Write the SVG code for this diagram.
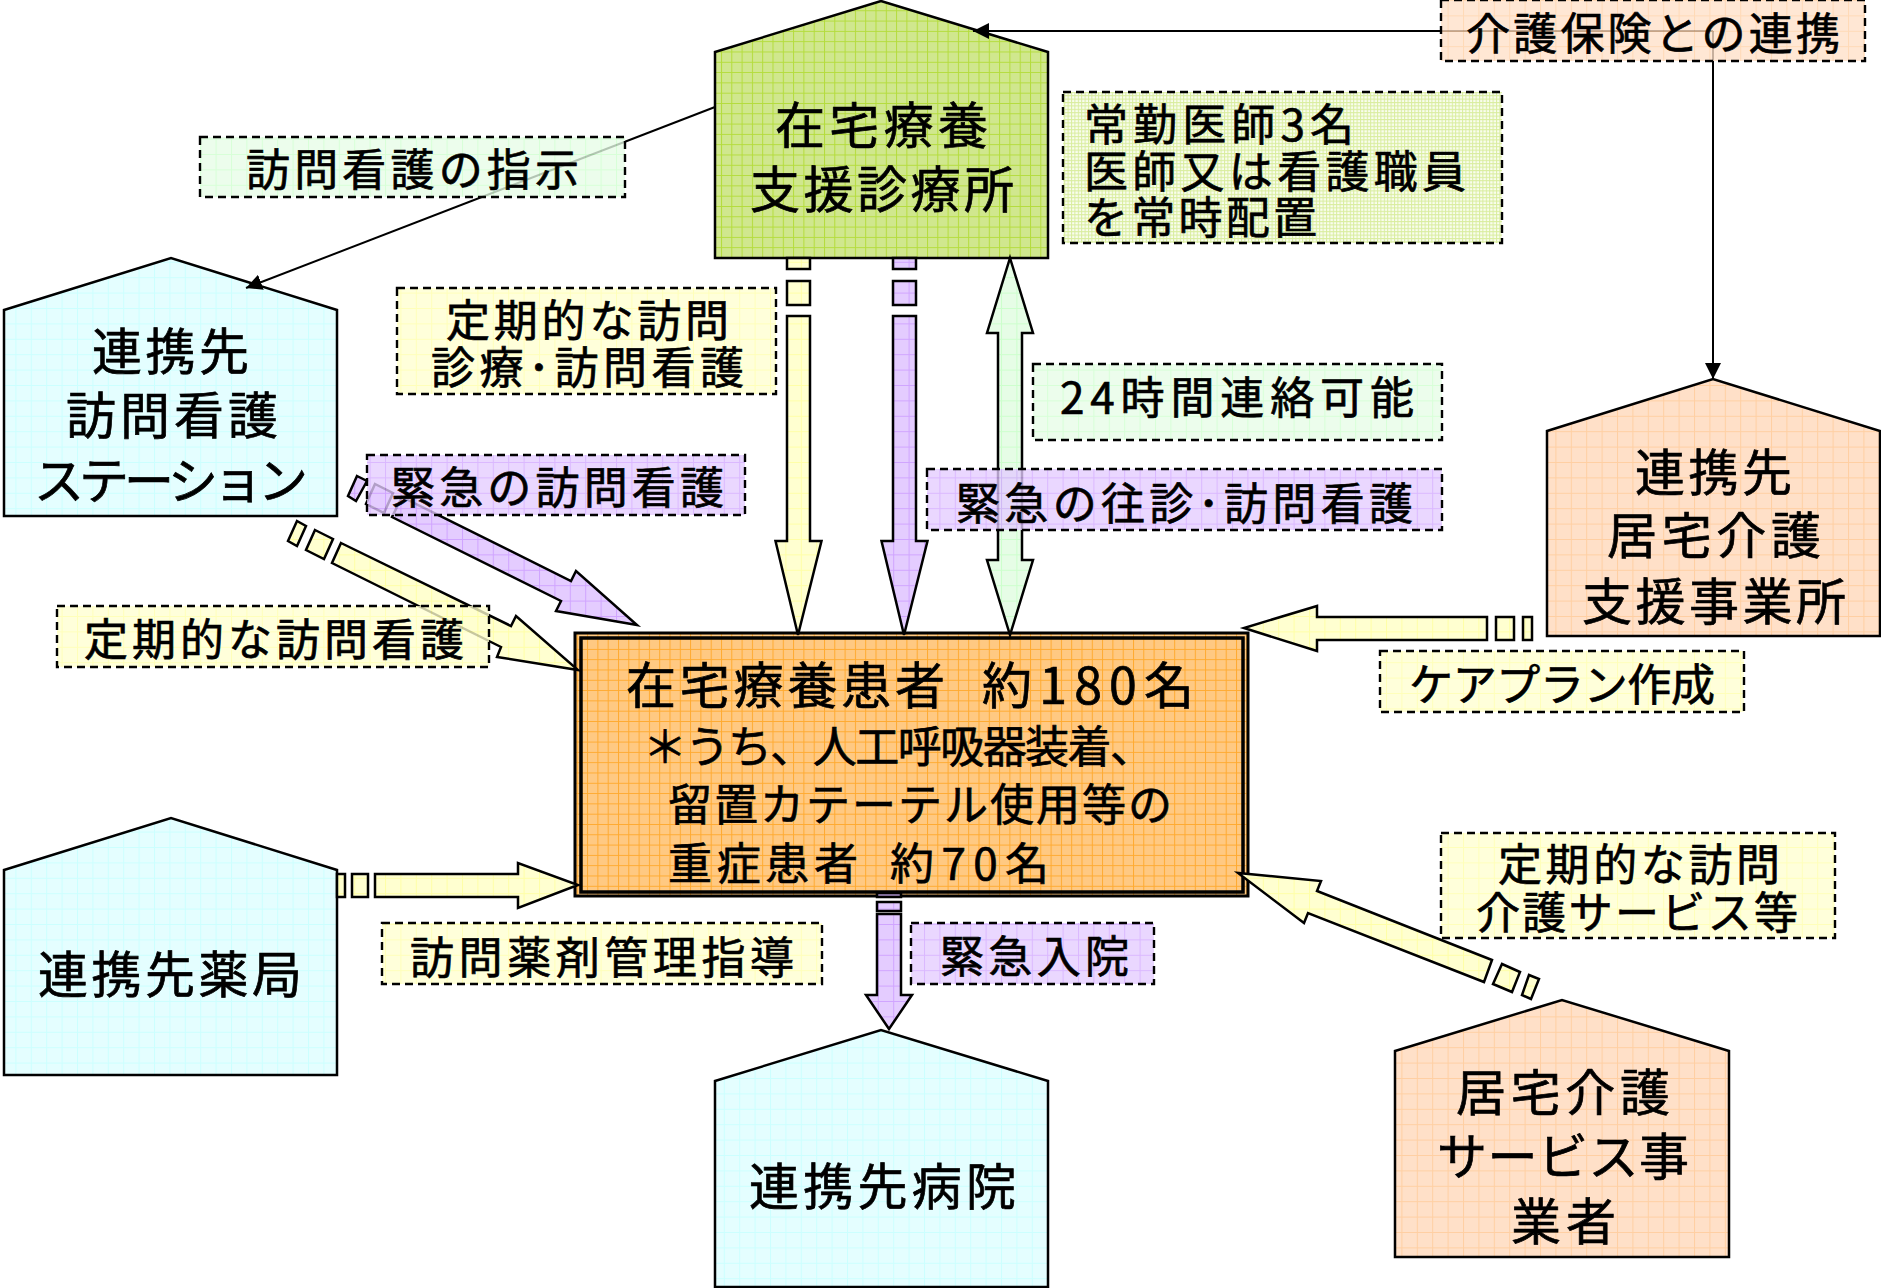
<svg xmlns="http://www.w3.org/2000/svg" width="1881" height="1288" viewBox="0 0 1881 1288">
<style>
text{font-family:"Noto Sans CJK JP","Noto Sans",sans-serif;fill:#000;font-size:44px;stroke:#000;stroke-width:.7px}
.b{font-size:50px}
.h{stroke:#000;stroke-width:2.5;stroke-linejoin:miter}
.a{stroke:#000;stroke-width:2.5;stroke-linejoin:miter}
.f{stroke:none;opacity:.78}
.d{fill:none;stroke:#000;stroke-width:2.4;stroke-dasharray:8 5}
.l{fill:none;stroke:#000;stroke-width:2}
</style>
<defs>
<marker id="tip" markerUnits="userSpaceOnUse" markerWidth="18" markerHeight="16" refX="16" refY="8" orient="auto"><path d="M0 0L16 8L0 16Z" fill="#000"/></marker>
<pattern id="pg" width="10.3" height="10.3" patternUnits="userSpaceOnUse"><rect width="10.3" height="10.3" fill="#d0e78e"/><path d="M0 .5H10.3M.5 0V10.3" stroke="#b4dc3c" stroke-width="1"/></pattern>
<pattern id="pm" width="3.4" height="3.4" patternUnits="userSpaceOnUse"><rect width="3.4" height="3.4" fill="#f9fdee"/><path d="M0 .5H3.4M.5 0V3.4" stroke="#d9ed9e" stroke-width="1"/></pattern>
<pattern id="pb" width="15.4" height="15.4" patternUnits="userSpaceOnUse"><rect width="15.4" height="15.4" fill="#e4feff"/><path d="M0 .5H15.4M.5 0V15.4" stroke="#ccffff" stroke-width="1"/></pattern>
<pattern id="pp" width="15.4" height="15.4" patternUnits="userSpaceOnUse"><rect width="15.4" height="15.4" fill="#ffe0c8"/><path d="M0 .5H15.4M.5 0V15.4" stroke="#ffcfa2" stroke-width="1"/></pattern>
<pattern id="py" width="15.4" height="15.4" patternUnits="userSpaceOnUse"><rect width="15.4" height="15.4" fill="#ffffd0"/><path d="M0 .5H15.4M.5 0V15.4" stroke="#ffffa6" stroke-width="1"/></pattern>
<pattern id="pv" width="15.4" height="15.4" patternUnits="userSpaceOnUse"><rect width="15.4" height="15.4" fill="#e4ccff"/><path d="M0 .5H15.4M.5 0V15.4" stroke="#d0a4ff" stroke-width="1"/></pattern>
<pattern id="pl" width="15.4" height="15.4" patternUnits="userSpaceOnUse"><rect width="15.4" height="15.4" fill="#e6fde6"/><path d="M0 .5H15.4M.5 0V15.4" stroke="#ccffcc" stroke-width="1"/></pattern>
<pattern id="po" width="10.3" height="10.3" patternUnits="userSpaceOnUse"><rect width="10.3" height="10.3" fill="#ffc982"/><path d="M0 .5H10.3M.5 0V10.3" stroke="#ffaa30" stroke-width="1"/></pattern>
</defs>

<g id="node-clinic"><path class="h" fill="url(#pg)" d="M715 52L881 1L1048 52V258H715Z"/>
<text class="b" x="775" y="144" textLength="213">在宅療養</text><text class="b" x="750" y="208" textLength="264">支援診療所</text></g>
<g id="node-nursing"><path class="h" fill="url(#pb)" d="M4 310L171 258L337 310V516H4Z"/>
<text class="b" x="92" y="370" textLength="157">連携先</text><text class="b" x="66" y="434" textLength="212">訪問看護</text><text class="b" x="34" y="499" textLength="274">ステーション</text></g>
<g id="node-care-support"><path class="h" fill="url(#pp)" d="M1547 431L1713 379L1880 431V636H1547Z"/>
<text class="b" x="1635" y="491" textLength="157">連携先</text><text class="b" x="1607" y="554" textLength="214">居宅介護</text><text class="b" x="1582" y="620" textLength="264">支援事業所</text></g>
<g id="node-pharmacy"><path class="h" fill="url(#pb)" d="M4 870L171 818L337 870V1075H4Z"/>
<text class="b" x="38" y="993" textLength="264">連携先薬局</text></g>
<g id="node-hospital"><path class="h" fill="url(#pb)" d="M715 1081L881 1030L1048 1081V1287H715Z"/>
<text class="b" x="749" y="1205" textLength="267">連携先病院</text></g>
<g id="node-care-service"><path class="h" fill="url(#pp)" d="M1395 1051L1562 1000L1729 1051V1257H1395Z"/>
<text class="b" x="1456" y="1111" textLength="214">居宅介護</text><text class="b" x="1437" y="1175" textLength="252">サービス事</text><text class="b" x="1511" y="1240" textLength="105">業者</text></g>
<g id="node-patients"><rect x="575" y="633" width="673" height="263" fill="url(#po)" stroke="#000" stroke-width="3"/><rect x="581" y="638" width="662" height="254" fill="url(#po)" stroke="#000" stroke-width="3.5"/>
<text class="b" x="626" y="704" textLength="319">在宅療養患者</text><text class="b" x="982" y="704" textLength="212">約180名</text>
<text x="643" y="763" textLength="511">＊うち、人工呼吸器装着、</text>
<text x="668" y="821" textLength="504">留置カテーテル使用等の</text>
<text x="668" y="880" textLength="190">重症患者</text><text x="890" y="880" textLength="159">約70名</text></g>

<g id="connectors">
<path class="l" marker-end="url(#tip)" d="M1713 31H973"/>
<path class="l" marker-end="url(#tip)" d="M1713 31V379"/>
<path class="l" marker-end="url(#tip)" d="M715 107L246 288"/>
<g class="a" fill="url(#py)"><path d="M787 258H810V269H787Z"/><path d="M787 281H810V305H787Z"/><path d="M787 316H810V541H821.500L798 635L775.500 541H787Z"/></g>
<g class="a" fill="url(#pv)"><path d="M893 258H916V269H893Z"/><path d="M893 281H916V305H893Z"/><path d="M893 316H916V541H927.500L904 635L881.500 541H893Z"/></g>
<path class="a" fill="url(#pl)" d="M1010 258L1033 333H1022V560H1033L1010 635L987 560H998V333H987Z"/>
<g class="a" fill="url(#pv)"><path d="M877 893H901V897H877Z" fill="#a98fc8"/><path d="M877 902H901V911H877Z"/><path d="M877 914H901V995H912L889 1029L866 995H877Z"/></g>
<g class="a" fill="url(#py)"><path d="M1523 617H1532V640H1523Z"/><path d="M1496 617H1514V640H1496Z"/><path d="M1487 617V640H1317V651L1244 628L1317 606V617Z"/></g>
<g class="a" fill="url(#py)"><path d="M337 874H345V897H337Z"/><path d="M352 874H368V897H352Z"/><path d="M375 874H518V863L578 885L518 908V897H375Z"/></g>
<g class="a" fill="url(#py)"><path d="M297 521L306 526L297 546L288 541Z"/><path d="M315 530L333 539L324 559L306 550Z"/><path d="M341 543L511 626L516 616L578 670L497 657L501 647L332 563Z"/></g>
<g class="a" fill="url(#pv)"><path d="M357 476L367 481L356 501L348 496Z"/><path d="M375 484L393 493L384 513L366 504Z"/><path d="M402 497L571 581L576 571L637 625L556 611L561 601L392 517Z"/></g>
<g class="a" fill="url(#py)"><path d="M1529 975L1539 979L1531 999L1522 995Z"/><path d="M1502 964L1520 972L1512 992L1493 984Z"/><path d="M1492 960L1317 891L1321 881L1238 873L1304 923L1308 913L1484 982Z"/></g>
</g>

<g id="label-care-insurance"><rect class="f" fill="url(#pp)" x="1441" y="0" width="424" height="61"/><rect class="d" x="1441" y="0" width="424" height="61"/><text x="1466" y="50" textLength="374">介護保険との連携</text></g>
<g id="label-staff"><rect class="f" fill="url(#pm)" x="1063" y="92" width="439" height="151" style="opacity:1"/><rect class="d" x="1063" y="92" width="439" height="151"/><text x="1084" y="141" textLength="270">常勤医師3名</text><text x="1084" y="188" textLength="382">医師又は看護職員</text><text x="1084" y="234" textLength="233">を常時配置</text></g>
<g id="label-instruction"><rect class="f" fill="url(#pl)" x="200" y="137" width="425" height="60"/><rect class="d" x="200" y="137" width="425" height="60"/><text x="246" y="186" textLength="333">訪問看護の指示</text></g>
<g id="label-regular-visit"><rect class="f" fill="url(#py)" x="397" y="288" width="379" height="106"/><rect class="d" x="397" y="288" width="379" height="106"/><text x="446" y="337" textLength="283">定期的な訪問</text><text x="431" y="384" textLength="313">診療･訪問看護</text></g>
<g id="label-24h"><rect class="f" fill="url(#pl)" x="1033" y="364" width="409" height="76"/><rect class="d" x="1033" y="364" width="409" height="76"/><text x="1060" y="414" textLength="354">24時間連絡可能</text></g>
<g id="label-emergency-visit"><rect class="f" fill="url(#pv)" x="927" y="469" width="515" height="61"/><rect class="d" x="927" y="469" width="515" height="61"/><text x="956" y="520" textLength="457">緊急の往診･訪問看護</text></g>
<g id="label-emergency-nursing"><rect class="f" fill="url(#pv)" x="367" y="455" width="378" height="60"/><rect class="d" x="367" y="455" width="378" height="60"/><text x="391" y="504" textLength="333">緊急の訪問看護</text></g>
<g id="label-regular-nursing"><rect class="f" fill="url(#py)" x="57" y="606" width="432" height="61"/><rect class="d" x="57" y="606" width="432" height="61"/><text x="84" y="656" textLength="380">定期的な訪問看護</text></g>
<g id="label-careplan"><rect class="f" fill="url(#py)" x="1380" y="651" width="364" height="61"/><rect class="d" x="1380" y="651" width="364" height="61"/><text x="1409" y="701" textLength="306">ケアプラン作成</text></g>
<g id="label-regular-care"><rect class="f" fill="url(#py)" x="1441" y="833" width="394" height="105"/><rect class="d" x="1441" y="833" width="394" height="105"/><text x="1498" y="881" textLength="282">定期的な訪問</text><text x="1476" y="929" textLength="322">介護サービス等</text></g>
<g id="label-pharmacy"><rect class="f" fill="url(#py)" x="382" y="923" width="440" height="61"/><rect class="d" x="382" y="923" width="440" height="61"/><text x="410" y="974" textLength="384">訪問薬剤管理指導</text></g>
<g id="label-admission"><rect class="f" fill="url(#pv)" x="911" y="923" width="243" height="61"/><rect class="d" x="911" y="923" width="243" height="61"/><text x="940" y="973" textLength="189">緊急入院</text></g>
</svg>
